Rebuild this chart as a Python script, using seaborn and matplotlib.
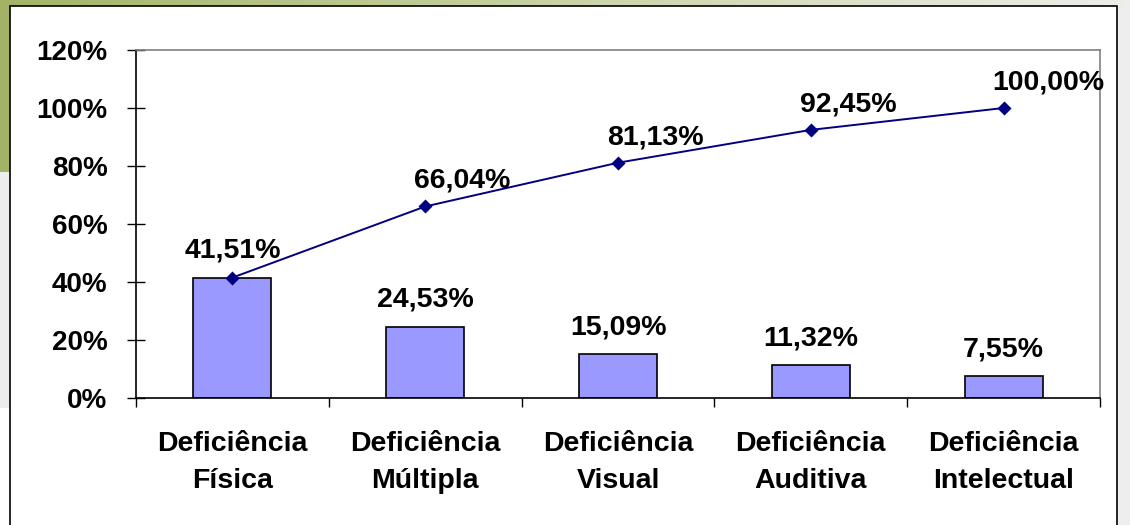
import matplotlib
matplotlib.use("Agg")
import matplotlib.pyplot as plt
import matplotlib.patches as mpatches
from matplotlib.colors import LinearSegmentedColormap
import numpy as np
import pandas as pd
import seaborn as sns

categories = ["Deficiência\nFísica", "Deficiência\nMúltipla", "Deficiência\nVisual",
              "Deficiência\nAuditiva", "Deficiência\nIntelectual"]
bar_values = [41.51, 24.53, 15.09, 11.32, 7.55]
cum_values = [41.51, 66.04, 81.13, 92.45, 100.00]
y_ticks = [0, 20, 40, 60, 80, 100, 120]

sns.set_theme(style="white")
plt.rcParams['font.family'] = ['Liberation Sans', 'DejaVu Sans']
plt.rcParams['text.color'] = 'black'
plt.rcParams['xtick.color'] = 'black'
plt.rcParams['ytick.color'] = 'black'
plt.rcParams['axes.labelcolor'] = 'black'

W, H = 1130, 525
fig = plt.figure(figsize=(W / 100, H / 100), dpi=100)
fig.patch.set_facecolor("white")

# slide background decoration
bg = fig.add_axes([0, 0, 1, 1], zorder=-10)
bg.set_xlim(0, W)
bg.set_ylim(H, 0)
bg.axis("off")
grad = np.linspace(0, 1, 256)[None, :]
cm = LinearSegmentedColormap.from_list("g", ["#A3B366", "#C9D3A6", "#EEEEEA"])
bg.imshow(grad, cmap=cm, extent=[0, W, 7, 0], aspect="auto")
bg.add_patch(mpatches.Rectangle((0, 0), 10, 172, color="#A3B366", lw=0))
bg.add_patch(mpatches.Rectangle((0, 172), 10, 236, color="#EDEDED", lw=0))
bg.add_patch(mpatches.Rectangle((1117, 7), 13, H, color="#EEEEEE", lw=0))
bg.add_patch(mpatches.Rectangle((10, 6), 1107, H, facecolor="white", edgecolor="black", lw=1.2))

ax = fig.add_axes([136 / W, 1 - 398 / H, (1100 - 136) / W, (398 - 50) / H])
df = pd.DataFrame({"cat": categories, "val": bar_values, "cum": cum_values})

sns.barplot(data=df, x="cat", y="val", ax=ax, color="#9999FF", saturation=1,
            width=0.405, edgecolor="black", linewidth=1.2, zorder=2)
sns.pointplot(data=df, x="cat", y="cum", ax=ax, color="#000080", markers="D",
              linestyles="-", markersize=6.5, linewidth=1.4, zorder=3)

ax.set_ylim(0, 120)
ax.set_xlim(-0.5, len(categories) - 0.5)
ax.set_yticks(y_ticks)
ax.set_yticklabels([f"{t}%" for t in y_ticks], fontsize=20, fontweight="bold")
ax.tick_params(axis="y", direction="inout", length=13, width=1, color="black", pad=14, left=True)
ax.set_xticks(range(len(categories)))
ax.set_xticklabels(categories, fontsize=20.5, fontweight="bold", linespacing=1.55)
ax.tick_params(axis="x", which="major", length=0, pad=24)
ax.set_xticks(np.arange(-0.5, len(categories), 1), minor=True)
ax.tick_params(axis="x", which="minor", direction="out", length=6.5, width=1, color="black", bottom=True)
ax.set_xlabel("")
ax.set_ylabel("")

for s in ["left", "bottom"]:
    ax.spines[s].set_color("black")
    ax.spines[s].set_linewidth(1.2)
for s in ["top", "right"]:
    ax.spines[s].set_color("#808080")
    ax.spines[s].set_linewidth(1.2)
    ax.spines[s].set_visible(True)

def fmt(v):
    return f"{v:.2f}%".replace(".", ",")

for i, v in enumerate(bar_values):
    ax.annotate(fmt(v), (i, v), xytext=(0, 10), textcoords="offset points",
                ha="center", va="bottom", fontsize=20.5, fontweight="bold", zorder=5)
for i, v in enumerate(cum_values):
    if i == 0:
        continue
    ax.annotate(fmt(v), (i, v), xytext=(-8, 9), textcoords="offset points",
                ha="left", va="bottom", fontsize=20.5, fontweight="bold", zorder=5,
                annotation_clip=False)

fig.savefig("out.png", dpi=100)
